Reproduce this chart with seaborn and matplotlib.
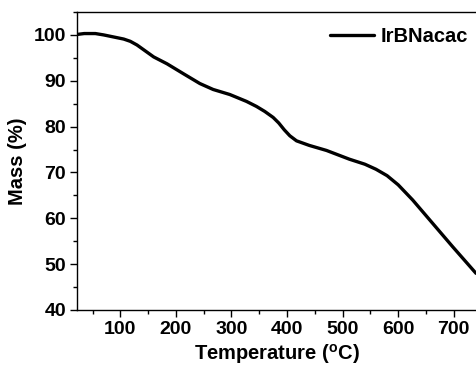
import matplotlib
matplotlib.use("Agg")
import matplotlib.pyplot as plt
import seaborn as sns
import pandas as pd
from matplotlib.ticker import MultipleLocator

temperature = [22, 35, 55, 70, 90, 106, 118, 130, 145, 160, 184, 214, 243, 267, 297,
               327, 345, 360, 375, 385, 395, 405, 417, 440, 471, 512, 540, 560, 580,
               600, 626, 662, 698, 740]
mass = [100.1, 100.3, 100.3, 100.0, 99.5, 99.1, 98.6, 97.8, 96.5, 95.2, 93.7, 91.5, 89.4,
        88.1, 87.0, 85.5, 84.4, 83.3, 82.0, 80.8, 79.3, 78.0, 76.9, 75.9, 74.8, 72.9,
        71.8, 70.7, 69.3, 67.3, 64.0, 58.9, 53.8, 48.0]
series_name = "IrBNacac"

df = pd.DataFrame({"Temperature": temperature, "Mass": mass, "Sample": series_name})

sns.set_style("ticks")
plt.rcParams["font.family"] = ["Liberation Sans", "DejaVu Sans"]
plt.rcParams["font.weight"] = "bold"
plt.rcParams["text.color"] = "black"
plt.rcParams["axes.labelcolor"] = "black"
plt.rcParams["xtick.color"] = "black"
plt.rcParams["ytick.color"] = "black"

fig = plt.figure(figsize=(4.77, 3.67), dpi=100)
ax = fig.add_axes([77/477, 57/367, 399/477, 298/367])

sns.lineplot(data=df, x="Temperature", y="Mass", hue="Sample", palette=["black"],
             linewidth=2.4, ax=ax)
ax.get_lines()[0].set_solid_joinstyle("round")

ax.set_xlim(22, 740)
ax.set_ylim(40, 105)
ax.xaxis.set_major_locator(MultipleLocator(100))
ax.xaxis.set_minor_locator(MultipleLocator(50))
ax.yaxis.set_major_locator(MultipleLocator(10))
ax.yaxis.set_minor_locator(MultipleLocator(5))
ax.tick_params(axis="both", which="major", direction="out", length=5, width=1,
               labelsize=14, pad=3, colors="black")
ax.tick_params(axis="both", which="minor", direction="out", length=3, width=1, colors="black")
for lbl in ax.get_xticklabels() + ax.get_yticklabels():
    lbl.set_fontweight("bold")
ax.spines["right"].set_visible(False)
ax.spines["top"].set_visible(True)
for s in ["left", "bottom", "top"]:
    ax.spines[s].set_linewidth(1)
    ax.spines[s].set_color("black")

ax.set_xlabel("Temperature ($\\mathregular{^o}$C)", fontsize=14.5, fontweight="bold",
              labelpad=3, color="black")
ax.set_ylabel("Mass (%)", fontsize=14.5, fontweight="bold", labelpad=5, color="black")

leg = ax.legend(loc="upper right", bbox_to_anchor=(1.01, 0.99), frameon=False,
                fontsize=14.5, handlelength=2.2, handletextpad=0.3, borderaxespad=0.2)
for t in leg.get_texts():
    t.set_fontweight("bold")
    t.set_color("black")

fig.savefig("out.png", dpi=100)
